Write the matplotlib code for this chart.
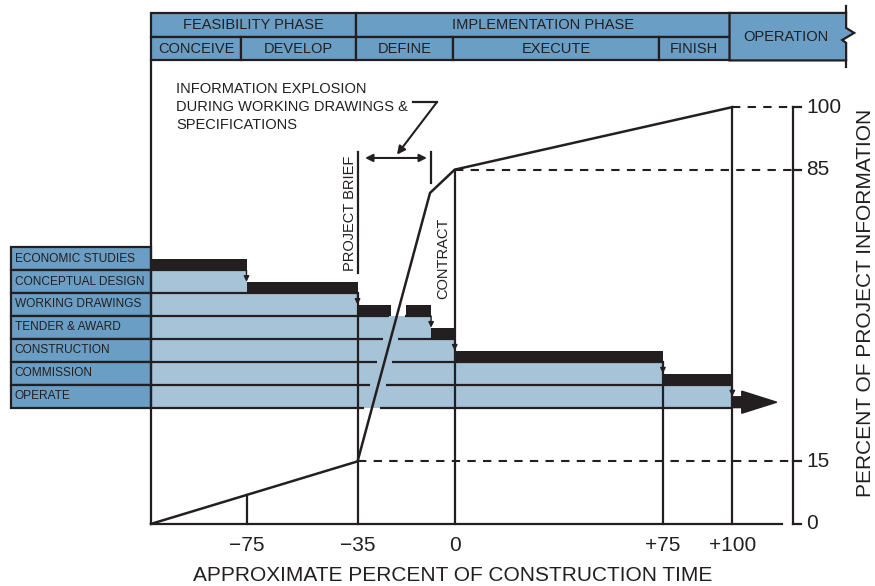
import numpy as np
import matplotlib.pyplot as plt
from matplotlib.patches import Rectangle, Polygon, FancyArrow

plt.rcParams['font.family'] = ['Liberation Sans', 'DejaVu Sans']

INK = "#231f20"
MID_BLUE = "#6a9ec4"
LIGHT_BLUE = "#a6c3d8"

# curve: percent of construction time -> percent of project information
INFO_X = [-109.4, -35, -8.9, 0, 100]
INFO_Y = [0, 15, 79.4, 85, 100]

X_TICKS = [-75, -35, 0, 75, 100]
X_LABELS = ["\u221275", "\u221235", "0", "+75", "+100"]
Y_TICKS = [0, 15, 85, 100]
Y_LABELS = ["0", "15", "85", "100"]

TASKS = ["ECONOMIC STUDIES", "CONCEPTUAL DESIGN", "WORKING DRAWINGS",
         "TENDER & AWARD", "CONSTRUCTION", "COMMISSION", "OPERATE"]
TASK_START = [-109.4, -75, -35, -8.5, 0, 75, 100]
TASK_END = [-75, -35, -8.5, 0, 75, 100, 116]

PHASES = ["FEASIBILITY PHASE", "IMPLEMENTATION PHASE"]
PHASE_EDGES = [-109.4, -35.5, 99]
STAGES = ["CONCEIVE", "DEVELOP", "DEFINE", "EXECUTE", "FINISH"]
STAGE_EDGES = [-109.4, -77, -35.5, -0.5, 73.5, 99]

# layout (data units)
X_LEFT = INFO_X[0]
X_LABEL_LEFT = -159.8
X_RAXIS = 121.9
X_HEAD_RIGHT = 141.0
X_BASE_RIGHT = 117.9
HEAD_TOP, HEAD_MID, HEAD_BOT = 122.6, 116.75, 111.2
ROW_TOP, ROW_H, BAR_H = 66.4, 5.5, 2.6
GAP = 2.8
LW = 1.6


def row_top(k):
    return ROW_TOP - k * ROW_H


def split_at_diag(y, x0, x1):
    # white break where the steep part of the curve crosses a dark line
    xa, ya, xb, yb = INFO_X[1], INFO_Y[1], INFO_X[2], INFO_Y[2]
    if not (ya <= y <= yb):
        return [(x0, x1)]
    xc = xa + (y - ya) * (xb - xa) / (yb - ya)
    if x0 < xc - GAP and xc + GAP < x1:
        return [(x0, xc - GAP), (xc + GAP, x1)]
    return [(x0, x1)]


fig = plt.figure(figsize=(8.75, 5.86), dpi=100)
ax = fig.add_axes([0, 0, 1, 1])
ax.set_xlim(-163.8, 151.4)
ax.set_ylim(-14.9, 125.7)
ax.set_axis_off()

# gantt rows
for k, name in enumerate(TASKS):
    top = row_top(k)
    bot = top - ROW_H
    if TASK_START[k] > X_LEFT:
        ax.barh(bot, TASK_START[k] - X_LEFT, left=X_LEFT, height=ROW_H, align='edge',
                color=LIGHT_BLUE, zorder=1)
    if k < len(TASKS) - 1:
        for a, b in split_at_diag(bot + BAR_H / 2, TASK_START[k], TASK_END[k]):
            ax.barh(bot, b - a, left=a, height=BAR_H, align='edge', color=INK, zorder=2)
        line_end = TASK_END[k]
    else:
        ax.add_patch(FancyArrow(TASK_START[k], bot + BAR_H / 2, TASK_END[k] - TASK_START[k], 0,
                                width=BAR_H, head_width=5.3, head_length=12.6,
                                length_includes_head=True, color=INK, zorder=2))
        line_end = TASK_START[k]
    for a, b in split_at_diag(bot, X_LEFT, line_end):
        ax.plot([a, b], [bot, bot], color=INK, lw=LW, zorder=3, solid_capstyle='butt')
    if 0 < k:
        ax.annotate('', xy=(TASK_START[k], top - (ROW_H - BAR_H) + 0.1), xytext=(TASK_START[k], top),
                    arrowprops=dict(arrowstyle='-|>', lw=1.0, color=INK, mutation_scale=8,
                                    shrinkA=0, shrinkB=0), zorder=3)
    # label box
    ax.add_patch(Rectangle((X_LABEL_LEFT, bot), X_LEFT - X_LABEL_LEFT, ROW_H,
                           facecolor=MID_BLUE, edgecolor=INK, lw=LW, zorder=3))
    ax.text(X_LABEL_LEFT + 1.3, bot + ROW_H / 2, name, fontsize=8.6, color=INK,
            ha='left', va='center', zorder=4)

# frame
ax.plot([X_LEFT, X_LEFT], [0, HEAD_BOT], color=INK, lw=LW, zorder=3)
ax.plot([X_LEFT, X_BASE_RIGHT], [0, 0], color=INK, lw=LW, zorder=3)

# drop lines
drop_tops = [np.interp(-75, INFO_X, INFO_Y), row_top(2), INFO_Y[3], row_top(5), INFO_Y[4]]
for x, t in zip(X_TICKS, drop_tops):
    ax.plot([x, x], [0, t], color=INK, lw=LW, zorder=3)

# dashed guides
for y, x0 in [(100, 100), (85, 0), (15, -35)]:
    ax.plot([x0, X_RAXIS], [y, y], color=INK, lw=1.5, ls=(0, (4, 3.5)), zorder=3)

# information curve
ax.plot(INFO_X, INFO_Y, color=INK, lw=1.8, zorder=4, solid_joinstyle='miter')

# right axis
ax.plot([X_RAXIS, X_RAXIS], [0, 100], color=INK, lw=LW, zorder=3)
for t, lab in zip(Y_TICKS, Y_LABELS):
    ax.plot([X_RAXIS, X_RAXIS + 2.8], [t, t], color=INK, lw=LW, zorder=3)
    ax.text(X_RAXIS + 4.6, t, lab, fontsize=15, color=INK, ha='left', va='center')
ax.text(148.0, 53, "PERCENT OF PROJECT INFORMATION", fontsize=15, color=INK,
        rotation=90, ha='center', va='center')

# x ticks
for x, lab in zip(X_TICKS, X_LABELS):
    ax.text(x, -5.1, lab, fontsize=15, color=INK, ha='center', va='center')
ax.text(-0.6, -12.3, "APPROXIMATE PERCENT OF CONSTRUCTION TIME", fontsize=15, color=INK,
        ha='center', va='center')

# header
for i, name in enumerate(PHASES):
    x0, x1 = PHASE_EDGES[i], PHASE_EDGES[i + 1]
    ax.add_patch(Rectangle((x0, HEAD_MID), x1 - x0, HEAD_TOP - HEAD_MID,
                           facecolor=MID_BLUE, edgecolor=INK, lw=LW, zorder=3))
    ax.text((x0 + x1) / 2, (HEAD_MID + HEAD_TOP) / 2, name, fontsize=10.5, color=INK,
            ha='center', va='center', zorder=4)
for i, name in enumerate(STAGES):
    x0, x1 = STAGE_EDGES[i], STAGE_EDGES[i + 1]
    ax.add_patch(Rectangle((x0, HEAD_BOT), x1 - x0, HEAD_MID - HEAD_BOT,
                           facecolor=MID_BLUE, edgecolor=INK, lw=LW, zorder=3))
    ax.text((x0 + x1) / 2, (HEAD_BOT + HEAD_MID) / 2, name, fontsize=10.5, color=INK,
            ha='center', va='center', zorder=4)
xo = PHASE_EDGES[-1]
op_shape = [(xo, HEAD_TOP), (X_HEAD_RIGHT, HEAD_TOP), (X_HEAD_RIGHT, 119.0),
            (X_HEAD_RIGHT + 2.9, 117.8), (X_HEAD_RIGHT - 1.4, 116.1), (X_HEAD_RIGHT, 115.4),
            (X_HEAD_RIGHT, HEAD_BOT), (xo, HEAD_BOT)]
ax.add_patch(Polygon(op_shape, closed=True, facecolor=MID_BLUE, edgecolor=INK, lw=LW,
                     joinstyle='miter', zorder=3))
ax.plot([X_HEAD_RIGHT, X_HEAD_RIGHT], [HEAD_TOP, 124.2], color=INK, lw=LW, zorder=3)
ax.plot([X_HEAD_RIGHT, X_HEAD_RIGHT], [HEAD_BOT, 109.6], color=INK, lw=LW, zorder=3)
ax.text((xo + X_HEAD_RIGHT) / 2 - 0.8, (HEAD_BOT + HEAD_TOP) / 2, "OPERATION", fontsize=10.5,
        color=INK, ha='center', va='center', zorder=4)

# milestones and annotation
ax.plot([-35, -35], [60.2, 89.2], color=INK, lw=LW)
ax.text(-37.6, 74.4, "PROJECT BRIEF", fontsize=10.5, color=INK, rotation=90,
        ha='center', va='center')
ax.plot([-8.5, -8.5], [81.8, 89.2], color=INK, lw=LW)
ax.text(-4.2, 63.8, "CONTRACT", fontsize=10.5, color=INK, rotation=90,
        ha='center', va='center')
ax.annotate('', xy=(-10.0, 87.8), xytext=(-32.3, 87.8),
            arrowprops=dict(arrowstyle='<|-|>', lw=1.5, color=INK, mutation_scale=11,
                            shrinkA=0, shrinkB=0))
ax.plot([-15.0, -6.4], [101.2, 101.2], color=INK, lw=LW)
ax.annotate('', xy=(-20.8, 88.6), xytext=(-6.4, 101.2),
            arrowprops=dict(arrowstyle='-|>', lw=1.5, color=INK, mutation_scale=12,
                            shrinkA=0, shrinkB=0))
ax.text(-100.3, 106.1, "INFORMATION EXPLOSION\nDURING WORKING DRAWINGS &\nSPECIFICATIONS",
        fontsize=10.5, color=INK, ha='left', va='top', linespacing=1.4)

fig.savefig("out.png", dpi=100)
